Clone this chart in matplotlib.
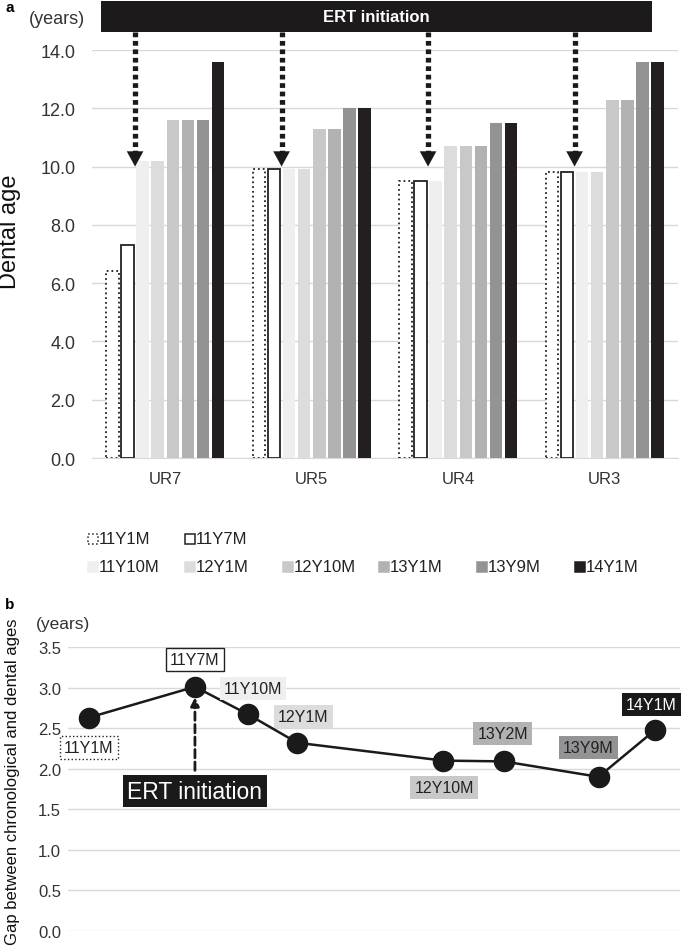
import matplotlib
matplotlib.use("Agg")
import matplotlib.pyplot as plt
from matplotlib.patches import Rectangle
import numpy as np

plt.rcParams['font.family'] = ['Liberation Sans', 'DejaVu Sans']

# ---------------- data ----------------
teeth = ["UR7", "UR5", "UR4", "UR3"]
periods = ["11Y1M", "11Y7M", "11Y10M", "12Y1M", "12Y10M", "13Y1M", "13Y9M", "14Y1M"]
v_11y1m = [6.4, 9.9, 9.5, 9.8]
v_11y7m = [7.3, 9.9, 9.5, 9.8]
v_11y10m = [10.2, 9.9, 9.5, 9.8]
v_12y1m = [10.2, 9.9, 10.7, 9.8]
v_12y10m = [11.6, 11.3, 10.7, 12.3]
v_13y1m = [11.6, 11.3, 10.7, 12.3]
v_13y9m = [11.6, 12.0, 11.5, 13.6]
v_14y1m = [13.6, 12.0, 11.5, 13.6]
series = [v_11y1m, v_11y7m, v_11y10m, v_12y1m, v_12y10m, v_13y1m, v_13y9m, v_14y1m]
ert_level = 10.0

gap_labels = ["11Y1M", "11Y7M", "11Y10M", "12Y1M", "12Y10M", "13Y2M", "13Y9M", "14Y1M"]
gap_age = [11.08, 11.64, 11.92, 12.18, 12.95, 13.27, 13.77, 14.07]
gap_vals = [2.63, 3.01, 2.67, 2.32, 2.10, 2.09, 1.90, 2.48]

# styles
fills = ["white", "white", "#efefef", "#dcdcdd", "#c8c8c9", "#b2b2b3", "#939395", "#231f20"]
edges = ["#222222", "#222222", "none", "none", "none", "none", "none", "none"]
lstyles = [":", "-", "-", "-", "-", "-", "-", "-"]

W, H = 685, 953
fig = plt.figure(figsize=(W / 100, H / 100), dpi=100)

def fx(px):
    return px / W

def fy(py):
    return 1 - py / H

grid_c = "#d9d9d9"
tick_c = "#333333"

# ---------------- panel a ----------------
axa = fig.add_axes([fx(92), fy(459), fx(678) - fx(92), fy(51) - fy(459)])
x = np.arange(len(teeth))
step = 0.103
bw = 0.085
for j, (name, vals) in enumerate(zip(periods, series)):
    off = (j - 3.5) * step
    axa.bar(x + off, vals, width=bw, color=fills[j], edgecolor=edges[j],
            linewidth=1.3 if edges[j] != "none" else 0, linestyle=lstyles[j],
            zorder=3, label=name)
axa.set_xlim(-0.5, 3.5)
axa.set_ylim(0, 14)
axa.set_yticks(np.arange(0, 14.01, 2))
axa.set_yticklabels([f"{t:.1f}" for t in np.arange(0, 14.01, 2)], fontsize=13, color=tick_c)
axa.set_xticks(x)
axa.set_xticklabels(teeth, fontsize=12, color=tick_c)
axa.tick_params(axis='y', length=0, pad=12)
axa.tick_params(axis='x', length=0, pad=9)
axa.grid(axis='y', color=grid_c, linewidth=1, zorder=0)
for s in ["top", "right", "left"]:
    axa.spines[s].set_visible(False)
axa.spines["bottom"].set_color(grid_c)
axa.set_ylabel("Dental age", fontsize=17, color="#111111")
axa.yaxis.set_label_coords((21 - 92) / 586, (459 - 232) / 408)

# arrows from ERT bar
for i in range(len(teeth)):
    ax_x = x[i] - 2 * step
    axa.plot([ax_x, ax_x], [14.62, ert_level + 0.5], linestyle=(0, (0.9, 0.7)),
             color="#1a1a1a", linewidth=3.8, clip_on=False, zorder=5,
             solid_capstyle='butt', dash_capstyle='butt')
    axa.annotate("", xy=(ax_x, ert_level), xytext=(ax_x, ert_level + 0.6),
                 arrowprops=dict(arrowstyle="-|>,head_width=0.6,head_length=1.1",
                                 color="#1a1a1a", lw=0, shrinkA=0, shrinkB=0),
                 annotation_clip=False, zorder=6)

# ERT initiation bar (figure coords)
fig.patches.append(Rectangle((fx(101), fy(33)), fx(652) - fx(101), fy(2) - fy(33),
                             transform=fig.transFigure, facecolor="#1c1a1b",
                             edgecolor="none", zorder=10))
fig.text(fx(376), fy(18), "ERT initiation", color="white", fontsize=12,
         fontweight="bold", ha="center", va="center", zorder=11)
fig.text(fx(5), fy(8), "a", fontsize=11, fontweight="bold", ha="left", va="center")
fig.text(fx(57), fy(20), "(years)", fontsize=13, color=tick_c, ha="center", va="center")

# legend (manual)
leg_rows = [[0, 1], [2, 3, 4, 5, 6, 7]]
leg_x = [88, 185, 283, 379, 477, 575]
leg_y = [540, 568]
for r, row in enumerate(leg_rows):
    for k, j in enumerate(row):
        px = leg_x[k]
        py = leg_y[r]
        fig.patches.append(Rectangle((fx(px), fy(py + 5)), fx(10), 10 / H,
                                     transform=fig.transFigure, facecolor=fills[j],
                                     edgecolor=edges[j] if edges[j] != "none" else fills[j],
                                     linewidth=1.1, linestyle=lstyles[j]))
        fig.text(fx(px + 11), fy(py), periods[j], fontsize=12, color="#222222",
                 ha="left", va="center")

# ---------------- panel b ----------------
axb = fig.add_axes([fx(68), fy(932), fx(680) - fx(68), fy(648) - fy(932)])
axb.plot(gap_age, gap_vals, color="#1a1a1a", linewidth=1.8, marker="o",
         markersize=14.5, markerfacecolor="#1a1a1a", markeredgecolor="#1a1a1a", zorder=4)
axb.set_xlim(10.97, 14.20)
axb.set_ylim(0, 3.5)
yt = np.arange(0, 3.51, 0.5)
axb.set_yticks(yt)
axb.set_yticklabels([f"{t:.1f}" for t in yt], fontsize=12, color=tick_c)
axb.set_xticks([])
axb.tick_params(axis='y', length=0, pad=5)
axb.grid(axis='y', color=grid_c, linewidth=1, zorder=0)
for s in ["top", "right", "left", "bottom"]:
    axb.spines[s].set_visible(False)
axb.set_ylabel("Gap between chronological and dental ages", fontsize=12, color="#111111")
axb.yaxis.set_label_coords((20 - 68) / 612, (932 - 782) / 284)
fig.text(fx(5), fy(605), "b", fontsize=11, fontweight="bold", ha="left", va="center")
fig.text(fx(63), fy(624), "(years)", fontsize=12.5, color=tick_c, ha="center", va="center")

# point labels: (index, label px offset from point, facecolor, textcolor, edge style)
lab_style = [
    (0, (0, 30), "white", "#222222", "dotted"),
    (1, (0, -27), "white", "#222222", "solid"),
    (2, (5, -26), "#efefef", "#222222", None),
    (3, (6, -26), "#dcdcdd", "#222222", None),
    (4, (1, 27), "#c8c8c9", "#222222", None),
    (5, (-1, -28), "#b2b2b3", "#222222", None),
    (6, (-10, -29), "#939395", "#222222", None),
    (7, (-4, -25), "#1a1a1a", "white", None),
]
for i, (dx, dy), fc, tc, es in lab_style:
    bbox = dict(boxstyle="square,pad=0.25", facecolor=fc,
                edgecolor="#222222" if es else fc,
                linestyle=":" if es == "dotted" else "-",
                linewidth=1.0 if es else 0)
    axb.annotate(gap_labels[i], xy=(gap_age[i], gap_vals[i]), xytext=(dx, -dy),
                 textcoords="offset pixels", fontsize=11.5, color=tc,
                 ha="center", va="center", bbox=bbox, zorder=6, annotation_clip=False)

# ERT initiation arrow on panel b
ert_x = gap_age[1]
axb.annotate("", xy=(ert_x, gap_vals[1] - 0.13), xytext=(ert_x, 1.98),
             arrowprops=dict(arrowstyle="-|>,head_width=0.25,head_length=0.5",
                             color="#1a1a1a", lw=2.0, linestyle=(0, (3, 1.5)),
                             shrinkA=0, shrinkB=0), zorder=5)
axb.annotate("ERT initiation", xy=(ert_x, 1.98), xytext=(0, -21),
             textcoords="offset pixels", fontsize=16.5, color="white",
             ha="center", va="center",
             bbox=dict(boxstyle="square,pad=0.2", facecolor="#1a1a1a", edgecolor="none"),
             zorder=6)

fig.savefig("out.png", dpi=100)
